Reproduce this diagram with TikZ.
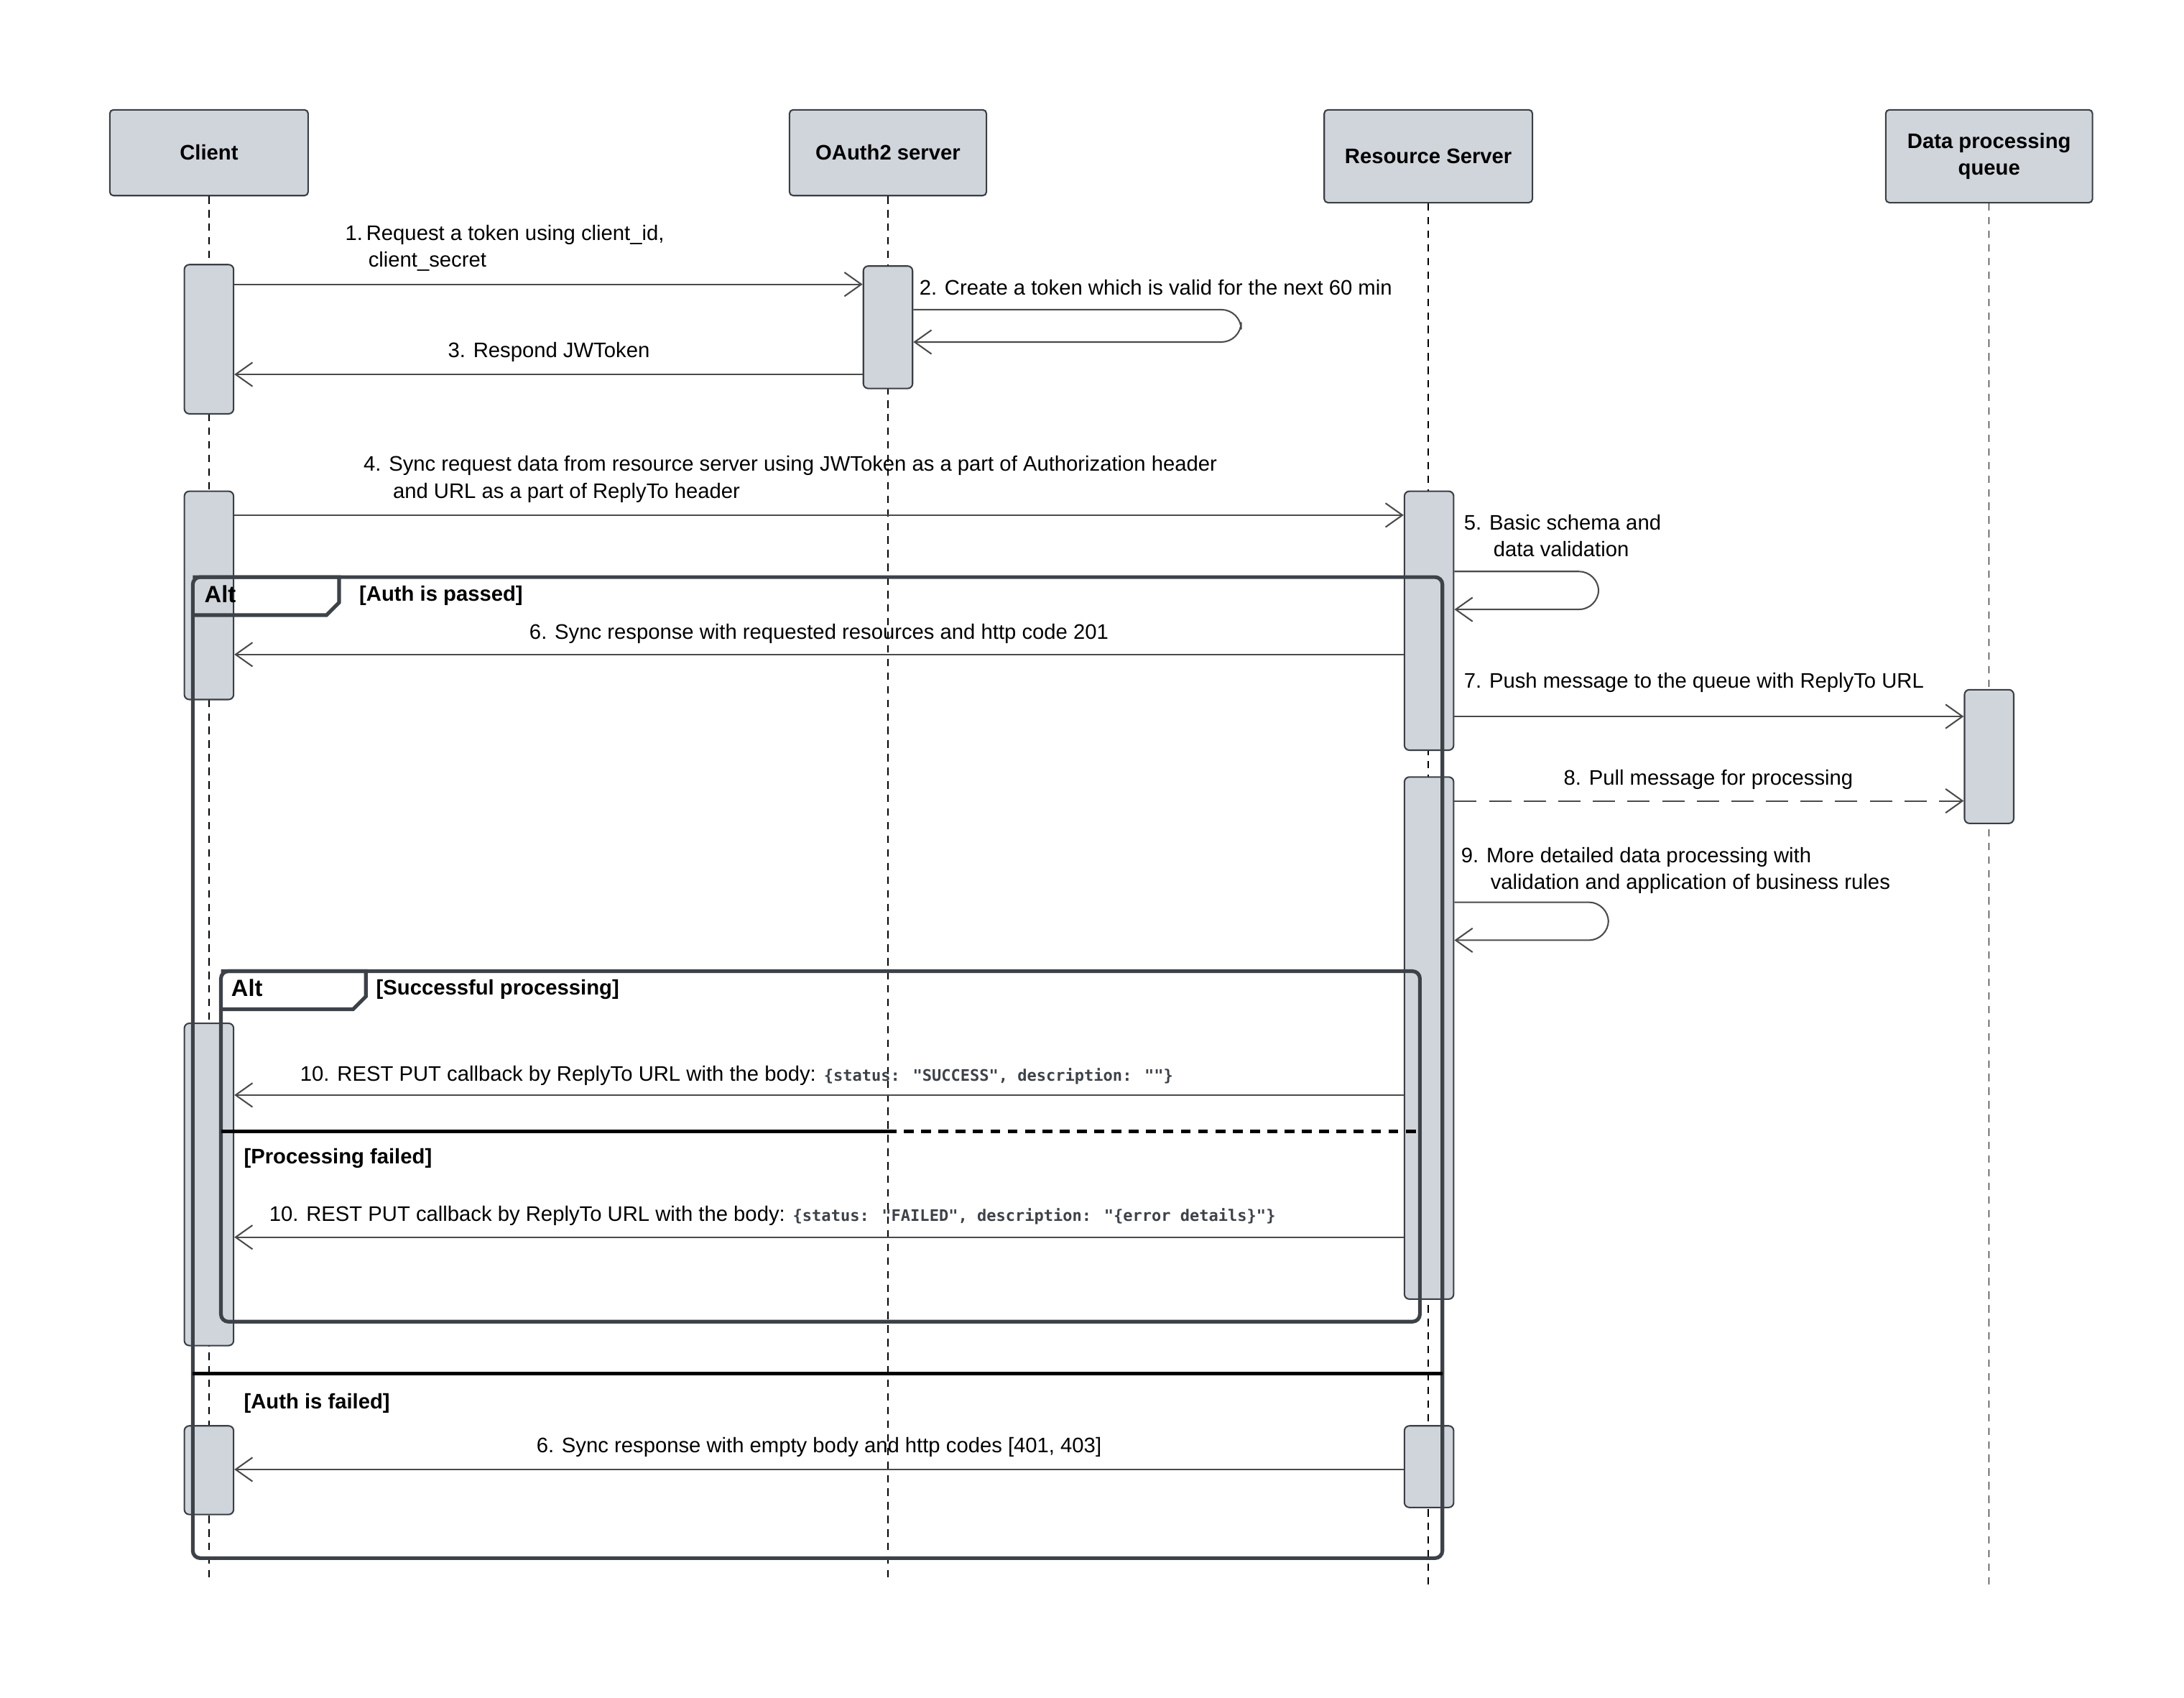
\documentclass[tikz,border=0pt]{standalone}
\usepackage{fontspec}
\setmainfont{Liberation Sans}
\newfontfamily\monof{DejaVu Sans Mono}
\usetikzlibrary{arrows.meta}
\definecolor{boxfill}{HTML}{D0D5DC}
\definecolor{boxline}{HTML}{3A3F45}
\definecolor{frm}{HTML}{3D4249}
\definecolor{msg}{HTML}{4A4A4A}
\newcommand{\mcode}[1]{{\monof\bfseries\fontsize{6.4}{8}\selectfont\color{frm}#1}}
\begin{document}
\begin{tikzpicture}[x=0.02cm,y=-0.02cm,
  every node/.style={font=\fontsize{8.5}{10.8}\selectfont},
  head/.style={draw=boxline,fill=boxfill,rounded corners=1.5pt,line width=0.6pt,font=\fontsize{8.5}{10.8}\selectfont\bfseries,align=center},
  act/.style={draw=boxline,fill=boxfill,rounded corners=2pt,line width=0.6pt,minimum width=0.7cm,inner sep=0pt},
  life/.style={draw=black,dash pattern=on 3pt off 2.5pt,line width=0.4pt},
  m/.style={draw=msg,line width=0.6pt,-{Straight Barb[length=0.24cm,width=0.34cm,line width=0.6pt]}},
  frame/.style={draw=frm,line width=1.5pt,rounded corners=3pt},
  tab/.style={draw=frm,line width=1.5pt},
  lbl/.style={anchor=west,align=left,inner sep=0pt},
  glbl/.style={anchor=west,inner sep=0pt,font=\fontsize{8.5}{10.8}\selectfont\bfseries}]
\useasboundingbox (0,0) rectangle (1552,1206);
% headers
\node[head,minimum width=2.82cm,minimum height=1.22cm] (hc) at (148.5,108.5) {Client};
\node[head,minimum width=2.8cm,minimum height=1.22cm] (ho) at (631,108.5) {OAuth2 server};
\node[head,minimum width=2.96cm,minimum height=1.32cm] (hr) at (1015,111) {Resource Server};
\node[head,minimum width=2.94cm,minimum height=1.32cm] (hq) at (1413.5,111) {Data processing\\queue};
\coordinate (ec) at (148.5,1125);
\coordinate (eo) at (631,1125);
\coordinate (er) at (1015,1130);
\coordinate (eq) at (1413.5,1130);
\draw[life] (hc.south) -- (ec);
\draw[life] (ho.south) -- (eo);
\draw[life] (hr.south) -- (er);
\draw[life] (hq.south) -- (eq);
% activations
\node[act,minimum height=2.12cm] (c1) at (148.5,241) {};
\node[act,minimum height=2.96cm] (c2) at (148.5,423) {};
\node[act,minimum height=4.58cm] (c3) at (148.5,841.5) {};
\node[act,minimum height=1.26cm] (c4) at (148.5,1044.5) {};
\node[act,minimum height=1.74cm] (o1) at (631,232.5) {};
\node[act,minimum height=3.68cm] (r1) at (1015.5,441) {};
\node[act,minimum height=7.42cm] (r2) at (1015.5,737.5) {};
\node[act,minimum height=1.16cm] (r3) at (1015.5,1042) {};
\node[act,minimum height=1.9cm] (q1) at (1413.5,537.5) {};
% frames
\draw[frame] (137,410) rectangle (1025,1107);
\draw[tab] (137,410) -- (241,410) -- (241,428) -- (232,437) -- (137,437);
\node[anchor=west,inner sep=0pt,font=\fontsize{9.5}{11}\selectfont\bfseries] (alt1) at (145,422) {Alt};
\node[glbl] (g1) at (255,423) {[Auth is passed]};
\draw[frame] (157,690) rectangle (1009,939);
\draw[tab] (157,690) -- (260,690) -- (260,708) -- (251,717) -- (157,717);
\node[anchor=west,inner sep=0pt,font=\fontsize{9.5}{11}\selectfont\bfseries] (alt2) at (164,702) {Alt};
\node[glbl] (g2) at (267,703) {[Successful processing]};
\coordinate (d1a) at (157,804);
\coordinate (d1m) at (630,804);
\coordinate (d1b) at (1010,804);
\draw[black,line width=1.4pt] (d1a) -- (d1m);
\draw[black,line width=1.4pt,dash pattern=on 4pt off 3pt] (d1m) -- (d1b);
\node[glbl] (g3) at (173,823) {[Processing failed]};
\coordinate (d2a) at (137,976);
\coordinate (d2b) at (1025,976);
\draw[black,line width=1.4pt] (d2a) -- (d2b);
\node[glbl] (g4) at (173,997) {[Auth is failed]};
% messages
\draw[m] (c1.east |- 0,202) -- (o1.west |- 0,202);
\node[lbl] (t1) at (245,176.5) {1.\,Request a token using client\_id,\\\hspace*{1.1em}client\_secret};
\node[lbl] (t2) at (653,204) {2. Create a token which is valid for the next 60 min};
\draw[m,rounded corners=8pt] (o1.east |- 0,220) -- (882,220) -- (882,243) -- (o1.east |- 0,243);
\draw[m,line width=0.8pt] (o1.west |- 0,266) -- (c1.east |- 0,266);
\node[inner sep=0pt] (t3) at (390,250) {3. Respond JWToken};
\draw[m] (c2.east |- 0,366) -- (r1.west |- 0,366);
\node[lbl] (t4) at (258,340.5) {4. Sync request data from resource server using JWToken as a part of Authorization header\\\hspace*{1.4em}and URL as a part of ReplyTo header};
\node[lbl] (t5) at (1040,380.5) {5. Basic schema and\\\hspace*{1.4em}data validation};
\draw[m,rounded corners=8pt] (r1.east |- 0,406) -- (1136,406) -- (1136,433) -- (r1.east |- 0,433);
\draw[m] (r1.west |- 0,465) -- (c2.east |- 0,465);
\node[inner sep=0pt] (t6) at (582,450) {6. Sync response with requested resources and http code 201};
\draw[m] (r1.east |- 0,509) -- (q1.west |- 0,509);
\node[lbl] (t7) at (1040,485) {7. Push message to the queue with ReplyTo URL};
\draw[m,dash pattern=on 9pt off 5pt] (r2.east |- 0,569) -- (q1.west |- 0,569);
\node[inner sep=0pt] (t8) at (1214,554) {8. Pull message for processing};
\node[lbl] (t9) at (1038,618.5) {9. More detailed data processing with\\\hspace*{1.4em}validation and application of business rules};
\draw[m,rounded corners=8pt] (r2.east |- 0,641) -- (1143,641) -- (1143,668) -- (r2.east |- 0,668);
\draw[m] (r2.west |- 0,778) -- (c3.east |- 0,778);
\node[lbl] (t10) at (213,764) {10. REST PUT callback by ReplyTo URL with the body: \mcode{\{status: "SUCCESS", description: ""\}}};
\draw[m] (r2.west |- 0,879) -- (c3.east |- 0,879);
\node[lbl] (t11) at (191,864) {10. REST PUT callback by ReplyTo URL with the body: \mcode{\{status: "FAILED", description: "\{error details\}"\}}};
\draw[m] (r3.west |- 0,1044) -- (c4.east |- 0,1044);
\node[inner sep=0pt] (t12) at (582,1028) {6. Sync response with empty body and http codes [401, 403]};
\end{tikzpicture}
\end{document}
